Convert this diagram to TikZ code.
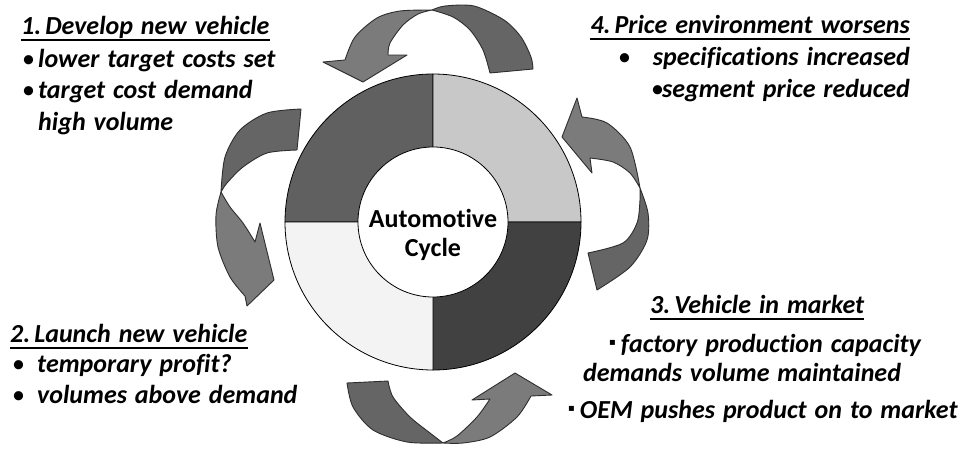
\documentclass[tikz,border=0pt]{standalone}
\usepackage{fontspec}
\setmainfont{Carlito}[Ligatures=CommonOff, WordSpace=1.35]
\newfontfamily\dejavu{DejaVu Sans}
\definecolor{qa}{HTML}{606060}
\definecolor{qb}{HTML}{F3F3F3}
\definecolor{qc}{HTML}{414141}
\definecolor{qd}{HTML}{C8C8C8}
\definecolor{arrlight}{HTML}{7B7B7B}
\definecolor{arrdark}{HTML}{656565}
\definecolor{arrline}{HTML}{2E2E2E}
\newcommand{\sqbul}{{\dejavu\upshape\mdseries\fontsize{10}{10}\selectfont\raisebox{7pt}{▪}}\hspace{5pt}}
\newcommand{\bul}{{\upshape\mdseries •}}
\begin{document}
\begin{tikzpicture}[x=1pt,y=-1pt,
  lbl/.style={inner sep=0pt, font=\fontsize{26}{26}\selectfont\bfseries\itshape},
  hubtxt/.style={inner sep=0pt, font=\fontsize{26}{26}\selectfont\bfseries},
  uline/.style={line width=1.8pt},
  ring/.style={draw=black, line width=0.8pt},
  arrback/.style={fill=arrdark, draw=arrline, line width=0.9pt, line join=round},
  arrfront/.style={fill=arrlight, draw=arrline, line width=0.9pt, line join=round}]
\useasboundingbox (0,0) rectangle (964,450);
\fill[white] (0,0) rectangle (964,450);
% donut
\coordinate (c) at (433,222);
\filldraw[ring, fill=qa] (c) -- ++(180:148pt) arc[start angle=180, end angle=90, radius=148pt] -- cycle;
\filldraw[ring, fill=qd] (c) -- ++(90:148pt) arc[start angle=90, end angle=0, radius=148pt] -- cycle;
\filldraw[ring, fill=qc] (c) -- ++(0:148pt) arc[start angle=0, end angle=-90, radius=148pt] -- cycle;
\filldraw[ring, fill=qb] (c) -- ++(-90:148pt) arc[start angle=-90, end angle=-180, radius=148pt] -- cycle;
\node[circle, ring, fill=white, minimum size=150pt, inner sep=0pt] (hub) at (c) {};
\node[hubtxt, anchor=base] (hubA) at (433,227) {Automotive};
\node[hubtxt, anchor=base] (hubB) at (433,256) {Cycle};
% top arrow
\path[arrback] plot[smooth] coordinates {(533,69) (531,57) (521,37) (504,20) (474,6) (445,6) (432,10)} -- plot[smooth] coordinates {(432,10) (453,17) (470,30) (483,50) (490,73)} -- cycle;
\path[arrfront] plot[smooth] coordinates {(432,10) (400,11) (377,18) (355,37) (345,60)} -- (323,62) -- (363,82) -- (407,55) -- (388,55) -- plot[smooth] coordinates {(388,55) (390,43) (403,25) (418,14) (432,10)} -- cycle;
% left arrow
\path[arrback] plot[smooth] coordinates {(301,109) (267,113) (240,130) (225,157) (221,192)} -- plot[smooth] coordinates {(221,192) (227,183) (243,167) (267,153) (297,150)} -- cycle;
\path[arrfront] plot[smooth] coordinates {(221,192) (216,215) (218,247) (230,277) (245,296)} -- (247,306) -- (274,280) -- (260,223) -- (255,242) -- plot[smooth] coordinates {(255,242) (243,223) (230,207) (221,192)} -- cycle;
% bottom arrow
\path[arrback] plot[smooth] coordinates {(347,383) (353,407) (373,430) (407,442) (443,443)} -- plot[smooth] coordinates {(443,443) (430,433) (410,417) (393,397) (388,381)} -- cycle;
\path[arrfront] plot[smooth] coordinates {(443,443) (463,443) (490,437) (517,417) (531,396)} -- (552,395) -- (515,373) -- (472,400) -- (490,399) -- plot[smooth] coordinates {(490,399) (477,417) (457,436) (443,443)} -- cycle;
% right arrow
\path[arrback] plot[smooth] coordinates {(597,290) (630,267) (647,240) (648,213) (640,188)} -- plot[smooth] coordinates {(640,188) (640,200) (637,223) (623,243) (588,253)} -- cycle;
\path[arrfront] plot[smooth] coordinates {(640,188) (630,147) (607,123) (582,117)} -- (577,98) -- (562,137) -- (592,173) -- (590,158) -- plot[smooth] coordinates {(590,158) (613,162) (630,173) (640,188)} -- cycle;
% block 1
\node[lbl, anchor=base west] (t1) at (21,34) {1.\hspace{4pt}Develop new vehicle};
\draw[uline] ([yshift=-6pt]t1.base west) -- ([yshift=-6pt]t1.base east);
\node[lbl, anchor=base west] (b11) at (22,67) {\makebox[16pt][l]{\bul}lower target costs set};
\node[lbl, anchor=base west] (b12) at (22,98) {\makebox[16pt][l]{\bul}target cost demand};
\node[lbl, anchor=base west] (b13) at (38,130) {high volume};
% block 2
\node[lbl, anchor=base west] (t2) at (10,342) {2.\hspace{4pt}Launch new vehicle};
\draw[uline] ([yshift=-6pt]t2.base west) -- ([yshift=-6pt]t2.base east);
\node[lbl, anchor=base west] (b21) at (12,372) {\makebox[25pt][l]{\bul}temporary profit?};
\node[lbl, anchor=base west] (b22) at (12,403) {\makebox[25pt][l]{\bul}volumes above demand};
% block 4
\node[lbl, anchor=base east] (t4) at (910,33) {4.\hspace{4pt}Price environment worsens};
\draw[uline] ([yshift=-6pt]t4.base west) -- ([yshift=-6pt]t4.base east);
\node[lbl, anchor=base west] (b41d) at (618,65) {\bul};
\node[lbl, anchor=base east] (b41) at (910,65) {specifications increased};
\node[lbl, anchor=base east] (b42) at (910,97) {\makebox[11pt][l]{\bul}segment price reduced};
% block 3
\node[lbl, anchor=base west] (t3) at (650,313) {3.\hspace{4pt}Vehicle in market};
\draw[uline] ([yshift=-6pt]t3.base west) -- ([yshift=-6pt]t3.base east);
\node[lbl, anchor=base west] (b31) at (609,352) {\sqbul factory production capacity};
\node[lbl, anchor=base west] (b32) at (583,381) {demands volume maintained};
\node[lbl, anchor=base west] (b33) at (568,418) {\sqbul OEM pushes product on to market};
\end{tikzpicture}
\end{document}
